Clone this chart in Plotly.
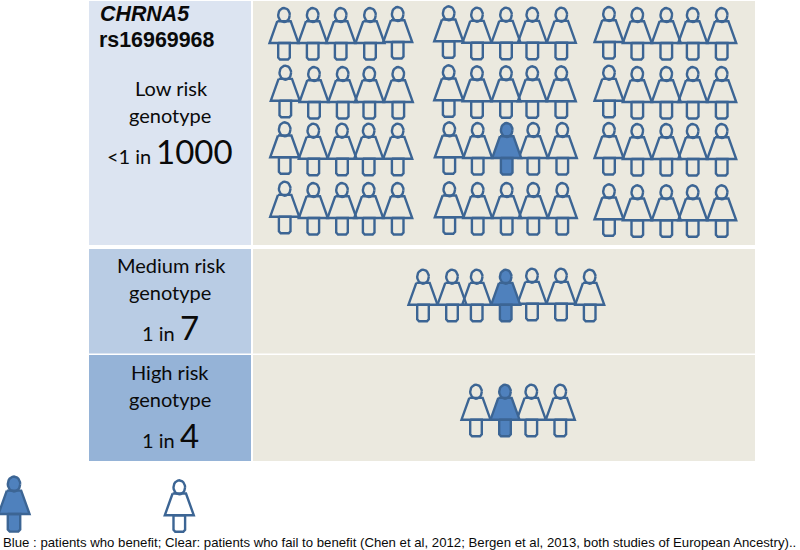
import numpy as np
import plotly.graph_objects as go

# head centres of the people, one list per row
low_group1_x = [[284, 312.7, 340.7, 370, 397.7], [285.3, 314, 342.7, 369.3, 398.3],
                [284.7, 313.3, 342, 368.7, 397.7], [284.7, 313.3, 342, 368.7, 397.7]]
low_group1_y = [[15, 15, 15, 15, 14], [72.7, 74, 74, 74, 74],
                [129.3, 130.7, 130.7, 130.7, 130.7], [188.7, 190, 190, 190, 190]]
low_group2_x = [[448.7, 477, 506, 532.3, 561.3], [448.7, 477, 506, 532.3, 561.3],
                [449.3, 477.7, 506.7, 533.3, 562.3], [449.3, 477.7, 506.7, 533.3, 562.3]]
low_group2_y = [[13.3, 14.7, 14.7, 14.7, 14.7], [72.3, 73.3, 73.3, 73.3, 73.3],
                [129.3, 130, 130, 130, 130], [189.3, 190, 190, 190, 190]]
low_group3_x = [[609, 637.3, 666.3, 692.7, 721.7]] * 4
low_group3_y = [[14, 15, 15, 15, 15], [72.7, 74, 74, 74, 74],
                [130, 131, 131, 131, 131], [191.3, 192.3, 192.3, 192.3, 192.3]]
medium_x = [423, 452, 476.7, 505.7, 532, 561, 589.7]
medium_y = [276.7, 276.7, 276.7, 276.7, 275.7, 275.7, 276.7]
high_x = [476, 505, 531.3, 560.3]
high_y = [391.7, 391.7, 391.7, 391.7]

# the blue ones (row, position in row) inside the low risk middle group
low_blue = (2, 2)
medium_blue = 3
high_blue = 1

# panels: x0, x1, y0, y1, colour
panel_x0 = [89, 89, 89, 253, 253, 253]
panel_x1 = [251, 251, 251, 755, 755, 755]
panel_y0 = [1, 249, 355, 1, 249, 355]
panel_y1 = [245, 353.5, 461, 245, 353.5, 461]
panel_colors = ["#dce4f1", "#b9cce4", "#95b3d7", "#ebe9df", "#ebe9df", "#ebe9df"]

OUTLINE = "#3c6594"
BLUE = "#4f81bd"
BODY = "Lato"
ARIAL = "Liberation Sans"


def person(cx, cy, scale=1.0):
    # one person = head ellipse + dress + legs, all relative to the head centre
    t = np.linspace(0, 2 * np.pi, 25)
    head_x = list(cx + 5.8 * scale * np.cos(t))
    head_y = list(cy + 7 * scale * np.sin(t))
    dress_x = [cx + scale * d for d in [-6.7, 6.7, 14.5, -14.5, -6.7]]
    dress_y = [cy + scale * d for d in [6.2, 6.2, 28, 28, 6.2]]
    legs_x = [cx + scale * d for d in [-5.8, 5.8, 5.8, 4, -4, -5.8, -5.8]]
    legs_y = [cy + scale * d for d in [28, 28, 42.5, 44.5, 44.5, 42.5, 28]]
    return head_x + [None] + dress_x + [None] + legs_x + [None], head_y + [None] + dress_y + [None] + legs_y + [None]


clear_x, clear_y, blue_x, blue_y = [], [], [], []


def add_people(xs, ys, blue_index=None):
    for i, (x, y) in enumerate(zip(xs, ys)):
        px, py = person(x, y)
        if i == blue_index:
            blue_x.extend(px)
            blue_y.extend(py)
        else:
            clear_x.extend(px)
            clear_y.extend(py)


for xrow, yrow in zip(low_group1_x, low_group1_y):
    add_people(xrow, yrow)
for r, (xrow, yrow) in enumerate(zip(low_group2_x, low_group2_y)):
    add_people(xrow, yrow, low_blue[1] if r == low_blue[0] else None)
for xrow, yrow in zip(low_group3_x, low_group3_y):
    add_people(xrow, yrow)
add_people(medium_x, medium_y, medium_blue)
add_people(high_x, high_y, high_blue)

# legend figures are a bit bigger than the rest
lx, ly = person(14, 484, 1.07)
blue_x.extend(lx)
blue_y.extend(ly)
lx, ly = person(179.3, 487.3, 1.0)
clear_x.extend(lx)
clear_y.extend(ly)

fig = go.Figure()
fig.add_trace(go.Scatter(x=clear_x, y=clear_y, mode="lines", hoverinfo="skip",
                         line=dict(color=OUTLINE, width=2.4)))
fig.add_trace(go.Scatter(x=blue_x, y=blue_y, mode="lines", hoverinfo="skip", fill="toself",
                         fillcolor=BLUE, line=dict(color=OUTLINE, width=2.4)))

for x0, x1, y0, y1, c in zip(panel_x0, panel_x1, panel_y0, panel_y1, panel_colors):
    fig.add_shape(type="rect", x0=x0, x1=x1, y0=y0, y1=y1, fillcolor=c, line_width=0, layer="below")


def label(x, y, text, size, font=BODY, anchor="center"):
    fig.add_annotation(x=x, y=y, text=text, showarrow=False, xanchor=anchor, yanchor="middle",
                       font=dict(family=font, size=size, color="#0a0a0a"))


label(98, 14, "<b><i>CHRNA5</i></b>", 21.4, ARIAL, "left")
label(97, 40, "<b>rs16969968</b>", 21.4, ARIAL, "left")
label(171, 88, "Low risk", 20)
label(170, 115, "genotype", 20)
label(105, 156, "&lt;1 in", 20, BODY, "left")
label(154, 151, "1000", 33, BODY, "left")

label(171, 265, "Medium risk", 20)
label(170, 292, "genotype", 20)
label(140, 333, "1 in", 20, BODY, "left")
label(189, 327, "7", 33)

label(170, 372, "High risk", 20)
label(170, 399, "genotype", 20)
label(140, 440, "1 in", 20, BODY, "left")
label(189, 435, "4", 33)

label(1, 542, "Blue : patients who benefit; Clear: patients who fail to benefit (Chen et al, 2012; Bergen et al, 2013, both studies of European Ancestry)..",
      13.2, ARIAL, "left")

fig.update_xaxes(range=[0, 800], visible=False, fixedrange=True)
fig.update_yaxes(range=[550, 0], visible=False, fixedrange=True)
fig.update_layout(width=800, height=550, margin=dict(l=0, r=0, t=0, b=0), showlegend=False,
                  paper_bgcolor="white", plot_bgcolor="white")

# page has a default body margin that would shift everything by 8px
fig.write_html("out.html", config={"displayModeBar": False},
               post_script="document.body.style.margin='0';document.body.style.overflow='hidden';")
